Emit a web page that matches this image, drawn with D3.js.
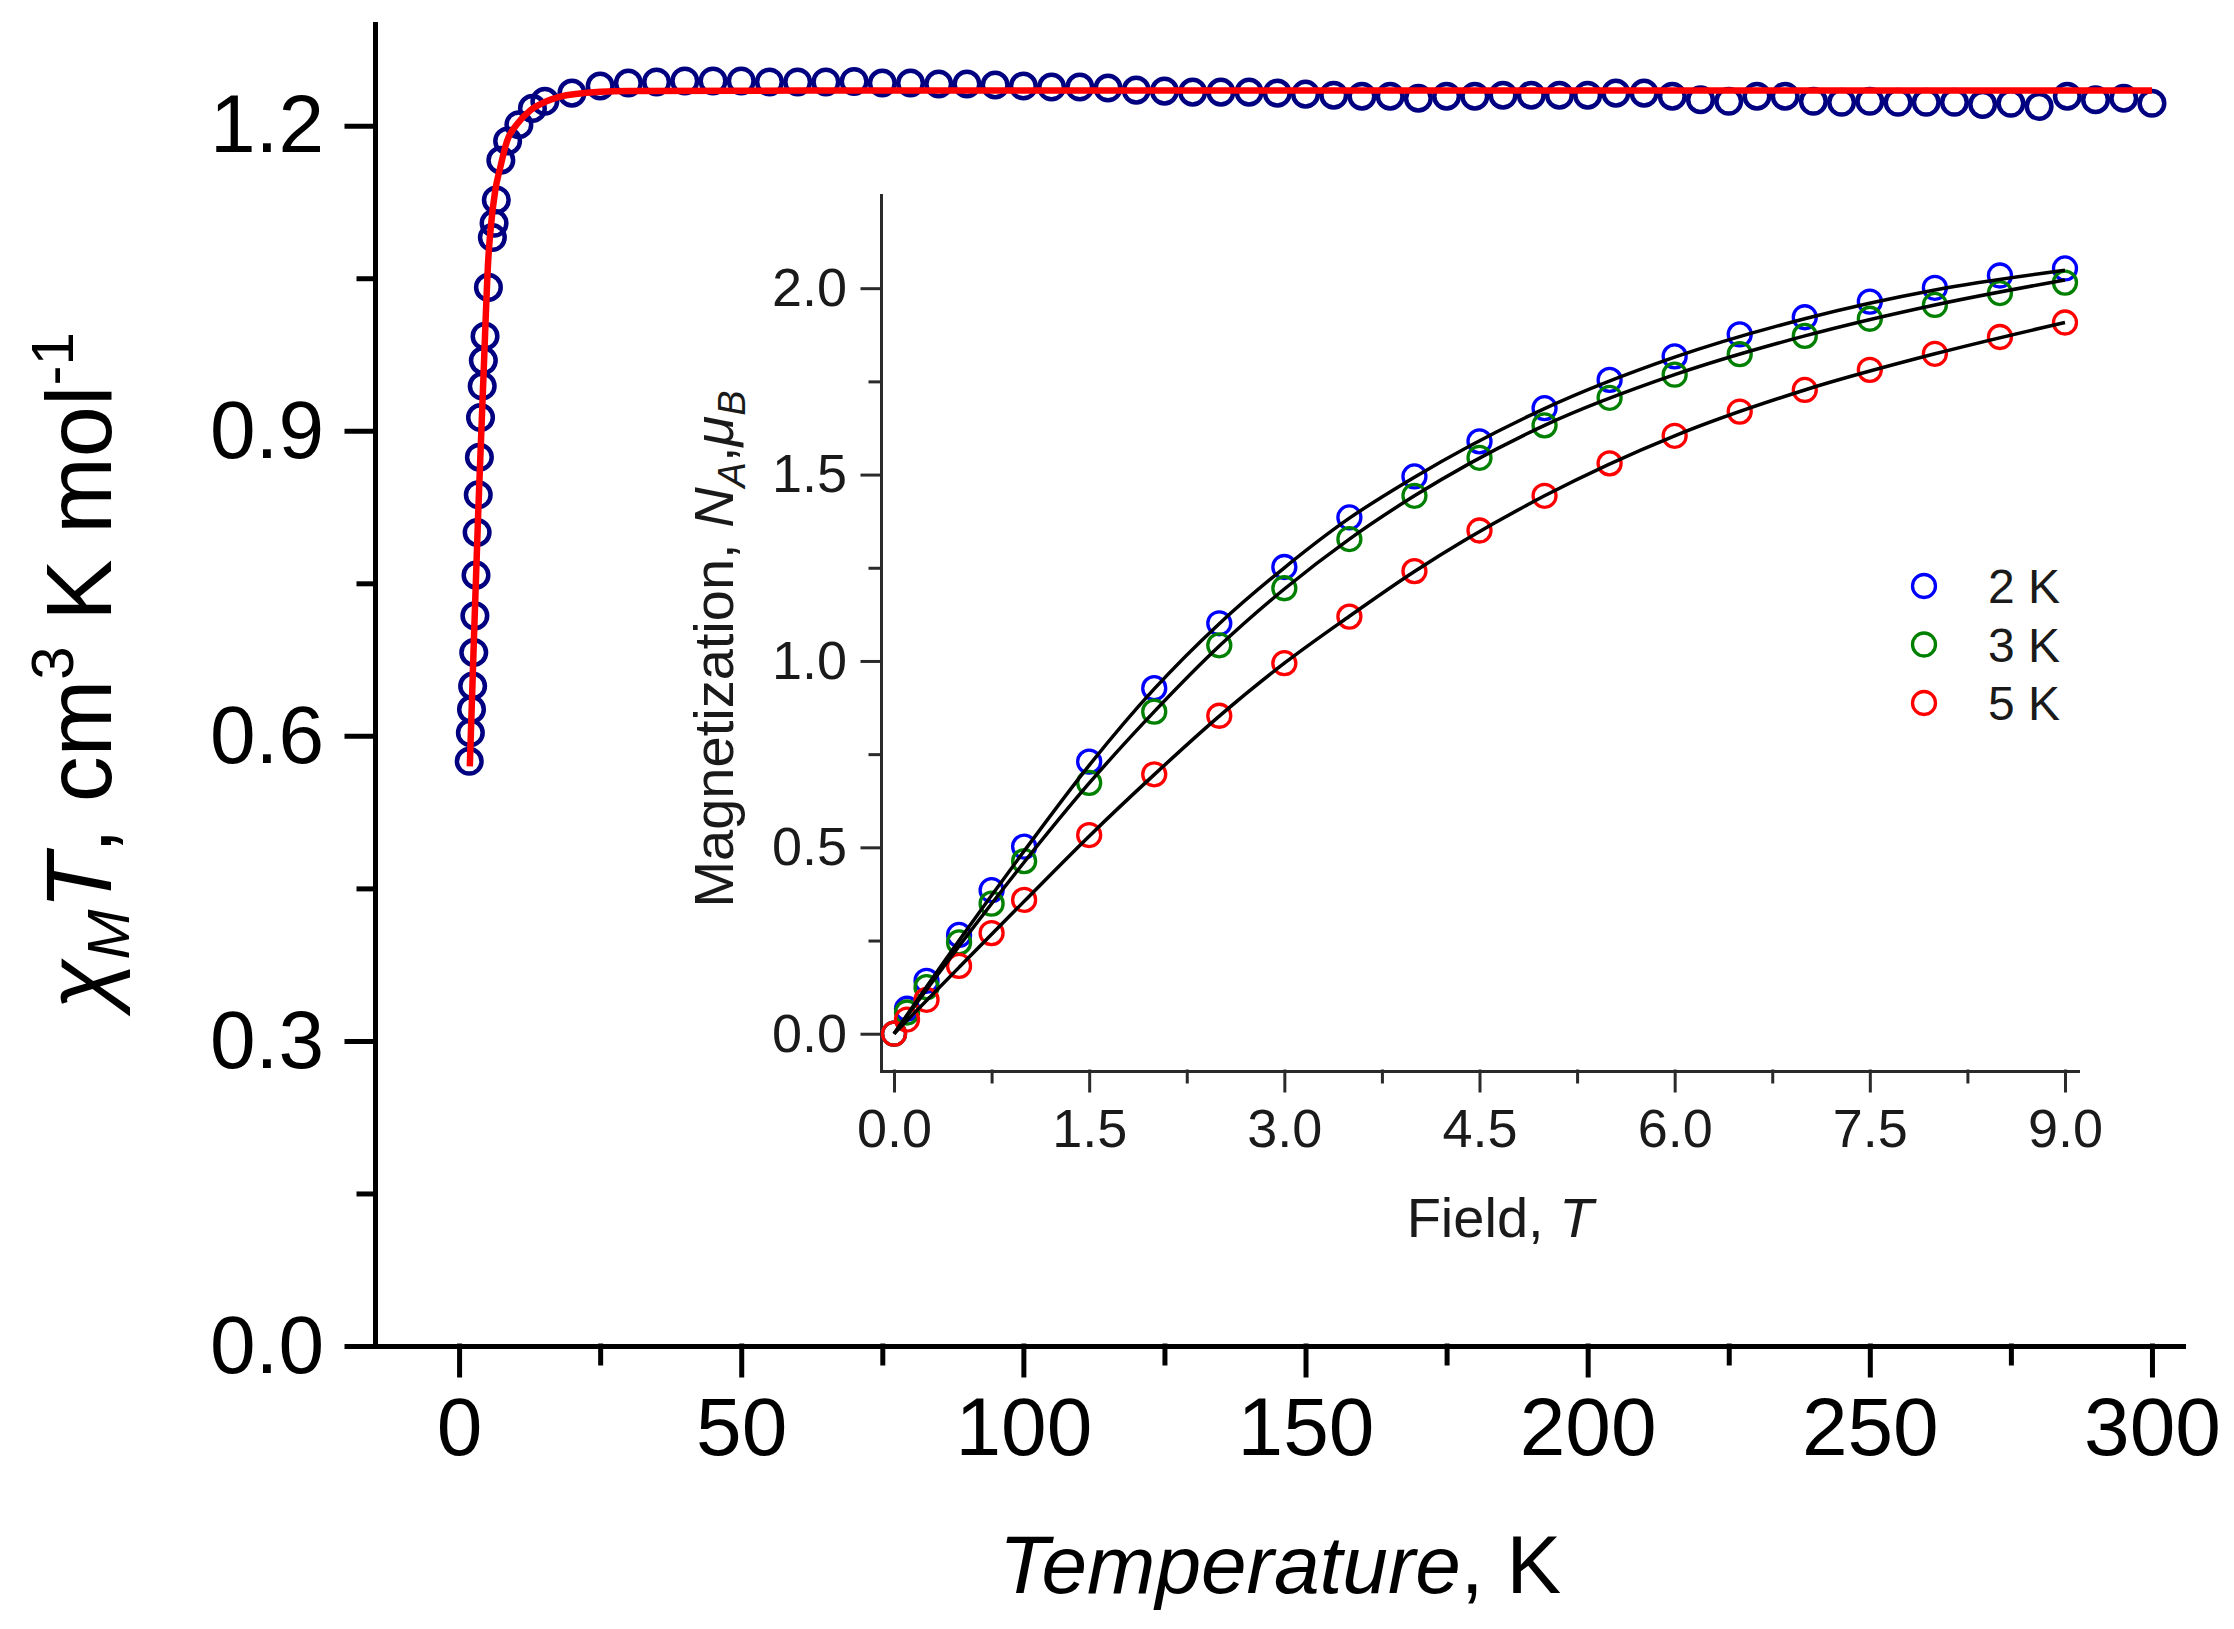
<!DOCTYPE html>
<html lang="en">
<head>
<meta charset="UTF-8">
<title>chiMT vs T with magnetization inset</title>
<script src="https://cdn.jsdelivr.net/npm/d3@7"></script>
<style>
  body { margin: 0; background: #fff; }
  svg { display: block; background: #fff; font-family: "Liberation Sans", Arial, sans-serif; }
  .main-axis path, .main-axis line { stroke: #000; stroke-width: 5; stroke-linecap: square; }
  .main-axis text { font-size: 82px; fill: #000; }
  .inset-axis path, .inset-axis line { stroke: #2a2a2a; stroke-width: 3; stroke-linecap: square; }
  .inset-axis text { font-size: 54px; fill: #1a1a1a; }
</style>
</head>
<body>
<svg id="chart" width="2234" height="1629"></svg>
<script>
// ---- main panel: chiM*T vs temperature ----
const temps = [1.8, 2.0, 2.2, 2.4, 2.6, 2.8, 3.0, 3.2, 3.4, 3.6, 3.8, 4.1, 4.3, 4.6, 5.2, 5.9, 6.2, 6.6, 7.4, 8.6, 10.6, 13.0, 15.2,
  20, 25, 30, 35, 40, 45, 50, 55, 60, 65, 70, 75, 80, 85, 90, 95, 100, 105, 110, 115, 120, 125, 130, 135, 140, 145,
  150, 155, 160, 165, 170, 175, 180, 185, 190, 195, 200, 205, 210, 215, 220, 225, 230, 235, 240, 245, 250, 255,
  260, 265, 270, 275, 280, 285, 290, 295, 300];
const chiT = [0.575, 0.603, 0.626, 0.649, 0.682, 0.718, 0.758, 0.800, 0.837, 0.874, 0.913, 0.944, 0.969, 0.993, 1.041, 1.090, 1.104, 1.127, 1.166, 1.185, 1.201, 1.217, 1.224,
  1.232, 1.239, 1.242, 1.243, 1.244, 1.244, 1.244, 1.243, 1.243, 1.243, 1.2435, 1.242, 1.242, 1.241, 1.241, 1.240, 1.239, 1.238, 1.238, 1.237, 1.235, 1.234, 1.233, 1.233, 1.233, 1.232,
  1.231, 1.230, 1.229, 1.229, 1.227, 1.229, 1.229, 1.230, 1.230, 1.230, 1.230, 1.232, 1.232, 1.229, 1.2255, 1.224, 1.229, 1.229, 1.224, 1.223, 1.224, 1.223,
  1.223, 1.223, 1.221, 1.222, 1.219, 1.229, 1.2255, 1.227, 1.222];
// fitted curve (red)
const fitTemps = [1.9, 2.6, 3.4, 4.3, 5.2, 5.6, 6.4, 7.3, 8.5, 10.2, 12.6, 15.5, 20.3, 30, 60, 150, 300];
const fitChiT = [0.570, 0.690, 0.821, 0.950, 1.071, 1.099, 1.136, 1.159, 1.185, 1.201, 1.215, 1.224, 1.231, 1.234, 1.2345, 1.2345, 1.2345];
const tempTicks = [0, 50, 100, 150, 200, 250, 300];
const tempMinor = [25, 75, 125, 175, 225, 275];
const chiTicks = [0, 0.3, 0.6, 0.9, 1.2];
const chiMinor = [0.15, 0.45, 0.75, 1.05];

// ---- inset: magnetization vs field ----
const fields = [0, 0.1, 0.25, 0.5, 0.75, 1.0, 1.5, 2.0, 2.5, 3.0, 3.5, 4.0, 4.5, 5.0, 5.5, 6.0, 6.5, 7.0, 7.5, 8.0, 8.5, 9.0];
const mag2K = [0, 0.067, 0.142, 0.265, 0.385, 0.502, 0.730, 0.927, 1.101, 1.252, 1.385, 1.495, 1.589, 1.678, 1.754, 1.817, 1.876, 1.922, 1.964, 2.001, 2.034, 2.053];
const mag3K = [0, 0.057, 0.125, 0.245, 0.349, 0.463, 0.673, 0.864, 1.042, 1.195, 1.327, 1.443, 1.545, 1.632, 1.706, 1.768, 1.823, 1.872, 1.918, 1.955, 1.987, 2.015];
const mag5K = [0, 0.038, 0.091, 0.182, 0.270, 0.359, 0.533, 0.696, 0.853, 0.994, 1.119, 1.241, 1.350, 1.443, 1.530, 1.604, 1.669, 1.727, 1.781, 1.824, 1.869, 1.908];
// fitted curves (black)
const fitFields = [0, 0.5, 1.0, 1.5, 2.0, 2.5, 3.0, 3.5, 4.0, 5.0, 6.0, 7.0, 8.0, 9.0];
const fit2K = [0, 0.250, 0.490, 0.720, 0.925, 1.100, 1.250, 1.383, 1.493, 1.677, 1.815, 1.918, 1.995, 2.048];
const fit3K = [0, 0.235, 0.460, 0.672, 0.864, 1.040, 1.193, 1.327, 1.443, 1.632, 1.768, 1.872, 1.955, 2.022];
const fit5K = [0, 0.178, 0.355, 0.530, 0.695, 0.852, 0.994, 1.120, 1.240, 1.443, 1.604, 1.727, 1.824, 1.908];
const legendLabels = ["2 K", "3 K", "5 K"];
const fieldTicks = [0, 1.5, 3.0, 4.5, 6.0, 7.5, 9.0];
const fieldMinor = [0.75, 2.25, 3.75, 5.25, 6.75, 8.25];
const magTicks = [0, 0.5, 1.0, 1.5, 2.0];
const magMinor = [0.25, 0.75, 1.25, 1.75];

const seriesColors = ["#0000ff", "#008000", "#ff0000"];

const svg = d3.select("#chart");

// scales
const x = d3.scaleLinear().domain([-14.9, 305.5]).range([375, 2183]);
const y = d3.scaleLinear().domain([0, 1.3]).range([1346, 24]);
const xi = d3.scaleLinear().domain([-0.1, 9.1]).range([881, 2078]);
const yi = d3.scaleLinear().domain([-0.1, 2.25]).range([1071, 195]);

// main axes
svg.append("g").attr("class", "main-axis").attr("transform", "translate(0,1346)")
   .call(d3.axisBottom(x).tickValues(tempTicks).tickSize(29).tickSizeOuter(0).tickPadding(22).tickFormat(d3.format("d")));
svg.append("g").attr("class", "main-axis").attr("transform", "translate(0,1346)")
   .call(d3.axisBottom(x).tickValues(tempMinor).tickSize(17).tickFormat(""))
   .select(".domain").remove();
svg.append("g").attr("class", "main-axis").attr("transform", "translate(375,0)")
   .call(d3.axisLeft(y).tickValues(chiTicks).tickSize(28).tickSizeOuter(0).tickPadding(23).tickFormat(d3.format(".1f")));
svg.append("g").attr("class", "main-axis").attr("transform", "translate(375,0)")
   .call(d3.axisLeft(y).tickValues(chiMinor).tickSize(16).tickFormat(""))
   .select(".domain").remove();

// main data
const mainPts = temps.map((t, i) => ({ t: t, v: chiT[i] }));
svg.append("g").selectAll("circle")
   .data(mainPts).enter().append("circle")
   .attr("cx", d => x(d.t))
   .attr("cy", d => y(d.v))
   .attr("r", 12.3)
   .attr("fill", "none")
   .attr("stroke", "#000080")
   .attr("stroke-width", 4.5);

const mainLine = d3.line().x(d => x(d.t)).y(d => y(d.v)).curve(d3.curveMonotoneX);
svg.append("path")
   .datum(fitTemps.map((t, i) => ({ t: t, v: fitChiT[i] })))
   .attr("d", mainLine)
   .attr("fill", "none")
   .attr("stroke", "#ff0000")
   .attr("stroke-width", 6.5);

// main axis titles
const xTitle = svg.append("text")
   .attr("x", 1280).attr("y", 1593)
   .attr("text-anchor", "middle")
   .style("font-size", "82px");
xTitle.append("tspan").style("font-style", "italic").text("Temperature");
xTitle.append("tspan").text(", K");

const yTitle = svg.append("text")
   .attr("transform", "translate(111,671) rotate(-90)")
   .attr("text-anchor", "middle")
   .style("font-size", "92px");
yTitle.append("tspan").style("font-style", "italic").text("\u03C7");
yTitle.append("tspan").style("font-style", "italic").style("font-size", "60px").attr("dy", 18).text("M");
yTitle.append("tspan").style("font-style", "italic").attr("dy", -18).text("T");
yTitle.append("tspan").text(", cm");
yTitle.append("tspan").style("font-size", "60px").attr("dy", -38).text("3");
yTitle.append("tspan").attr("dy", 38).text(" K mol");
yTitle.append("tspan").style("font-size", "60px").attr("dy", -38).text("-1");

// inset axes
svg.append("g").attr("class", "inset-axis").attr("transform", "translate(0,1071)")
   .call(d3.axisBottom(xi).tickValues(fieldTicks).tickSize(20).tickSizeOuter(0).tickPadding(18).tickFormat(d3.format(".1f")));
svg.append("g").attr("class", "inset-axis").attr("transform", "translate(0,1071)")
   .call(d3.axisBottom(xi).tickValues(fieldMinor).tickSize(11).tickFormat(""))
   .select(".domain").remove();
svg.append("g").attr("class", "inset-axis").attr("transform", "translate(881,0)")
   .call(d3.axisLeft(yi).tickValues(magTicks).tickSize(19).tickSizeOuter(0).tickPadding(15).tickFormat(d3.format(".1f")));
svg.append("g").attr("class", "inset-axis").attr("transform", "translate(881,0)")
   .call(d3.axisLeft(yi).tickValues(magMinor).tickSize(11).tickFormat(""))
   .select(".domain").remove();

// inset data
const magSeries = [mag2K, mag3K, mag5K];
const fitSeries = [fit2K, fit3K, fit5K];

magSeries.forEach((vals, s) => {
  svg.append("g").selectAll("circle")
     .data(fields.map((f, i) => ({ f: f, m: vals[i] }))).enter().append("circle")
     .attr("cx", d => xi(d.f))
     .attr("cy", d => yi(d.m))
     .attr("r", 11.5)
     .attr("fill", "none")
     .attr("stroke", seriesColors[s])
     .attr("stroke-width", 3.3);
});

const insetLine = d3.line().x(d => xi(d.f)).y(d => yi(d.m)).curve(d3.curveMonotoneX);
fitSeries.forEach(vals => {
  svg.append("path")
     .datum(fitFields.map((f, i) => ({ f: f, m: vals[i] })))
     .attr("d", insetLine)
     .attr("fill", "none")
     .attr("stroke", "#000")
     .attr("stroke-width", 3.5);
});

// inset legend
const legend = svg.append("g");
legendLabels.forEach((lab, i) => {
  const ly = 586 + i * 58.5;
  legend.append("circle")
     .attr("cx", 1924).attr("cy", ly).attr("r", 11.5)
     .attr("fill", "none").attr("stroke", seriesColors[i]).attr("stroke-width", 3.3);
  legend.append("text")
     .attr("x", 1988).attr("y", ly + 17)
     .style("font-size", "48px").style("fill", "#1a1a1a")
     .text(lab);
});

// inset titles
const fTitle = svg.append("text")
   .attr("x", 1500).attr("y", 1237)
   .attr("text-anchor", "middle")
   .style("font-size", "56px").style("fill", "#1a1a1a");
fTitle.append("tspan").text("Field, ");
fTitle.append("tspan").style("font-style", "italic").text("T");

const mTitle = svg.append("text")
   .attr("transform", "translate(733,649) rotate(-90)")
   .attr("text-anchor", "middle")
   .style("font-size", "56px").style("fill", "#1a1a1a");
mTitle.append("tspan").text("Magnetization, ");
mTitle.append("tspan").style("font-style", "italic").text("N");
mTitle.append("tspan").style("font-style", "italic").style("font-size", "38px").attr("dy", 12).text("A");
mTitle.append("tspan").attr("dy", -12).text(",");
mTitle.append("tspan").style("font-style", "italic").text("\u03BC");
mTitle.append("tspan").style("font-style", "italic").style("font-size", "38px").attr("dy", 12).text("B");
</script>
</body>
</html>
